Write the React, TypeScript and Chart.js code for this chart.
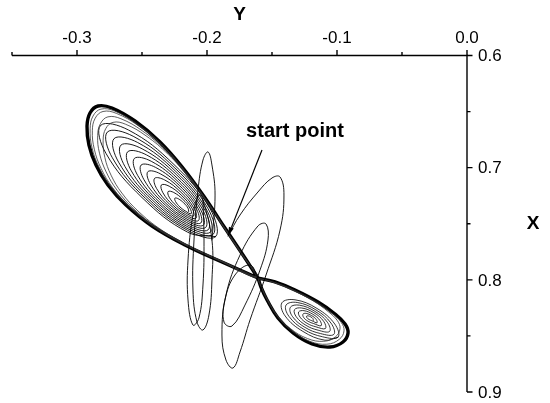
import React, { useEffect, useRef } from 'react';
import { Chart, registerables } from 'chart.js';

Chart.register(...registerables);

// Each point is [Y, X]: Y runs along the top axis, X down the right axis.
type Pt = [number, number];

const topTicks = [-0.3, -0.2, -0.1, 0.0];
const topTickLabels = ['-0.3', '-0.2', '-0.1', '0.0'];
const topMinorTicks = [-0.35, -0.25, -0.15, -0.05];
const rightTicks = [0.6, 0.7, 0.8, 0.9];
const rightTickLabels = ['0.6', '0.7', '0.8', '0.9'];
const rightMinorTicks = [0.65, 0.75, 0.85];

const annotationText = 'start point';
const annotationAt: Pt = [-0.1323, 0.6673];
const arrowFrom: Pt = [-0.1577, 0.6842];
const arrowTo: Pt = [-0.1838, 0.7609];

// early excursion leaving the start point
const transientA: Pt[] = [
  [-0.1838, 0.7609], [-0.1746, 0.7422], [-0.1608, 0.7217], [-0.15, 0.7092], [-0.1438, 0.7083],
  [-0.1408, 0.7244], [-0.1438, 0.7556], [-0.1546, 0.7957], [-0.1669, 0.8358], [-0.1746, 0.8643],
  [-0.18, 0.8786], [-0.1854, 0.8715], [-0.1885, 0.8492], [-0.1854, 0.8135], [-0.1746, 0.7779],
  [-0.1608, 0.752], [-0.1546, 0.7502], [-0.1531, 0.7645], [-0.1592, 0.7912], [-0.1708, 0.8225],
  [-0.1808, 0.8412], [-0.1869, 0.8377], [-0.1862, 0.818], [-0.1785, 0.7957], [-0.1669, 0.7868],
  [-0.1608, 0.7984],
];

// narrow swings on the left side
const transientB: Pt[] = [
  [-0.1962, 0.7645], [-0.1938, 0.7244], [-0.1962, 0.6976], [-0.1992, 0.686], [-0.2031, 0.6932],
  [-0.2069, 0.7199], [-0.21, 0.7645], [-0.2108, 0.8091], [-0.2077, 0.8376], [-0.2031, 0.8447],
  [-0.1985, 0.8313], [-0.1962, 0.8002], [-0.1962, 0.7645],
  [-0.2031, 0.7288], [-0.2062, 0.7244], [-0.2108, 0.7422], [-0.2146, 0.7823], [-0.2146, 0.818],
  [-0.2108, 0.8403], [-0.2062, 0.834], [-0.2031, 0.8046], [-0.2023, 0.7645], [-0.2031, 0.7288],
];

// dense band just inside the left lobe's rim
const leftBand: Pt[] = [
  [-0.1611, 0.7981], [-0.1723, 0.778], [-0.186, 0.7544], [-0.201, 0.7281], [-0.2176, 0.702],
  [-0.235, 0.6792], [-0.2538, 0.6609], [-0.2711, 0.6495], [-0.2816, 0.6478], [-0.2877, 0.654],
  [-0.2899, 0.6653], [-0.2885, 0.6819], [-0.2832, 0.6993], [-0.2742, 0.7168], [-0.2605, 0.7343],
  [-0.2409, 0.7526], [-0.2161, 0.7692], [-0.1882, 0.7841],
  [-0.1613, 0.7979], [-0.1724, 0.7781], [-0.1858, 0.7549], [-0.2006, 0.729], [-0.217, 0.7032],
  [-0.234, 0.6808], [-0.2526, 0.6628], [-0.2697, 0.6516], [-0.28, 0.6499], [-0.286, 0.6559],
  [-0.2882, 0.6671], [-0.2867, 0.6835], [-0.2815, 0.7006], [-0.2726, 0.7178], [-0.2592, 0.7351],
  [-0.2399, 0.7531], [-0.2154, 0.7694], [-0.188, 0.7841],
  [-0.1618, 0.7974], [-0.1725, 0.7783], [-0.1854, 0.7559], [-0.1996, 0.731], [-0.2154, 0.7062],
  [-0.2319, 0.6846], [-0.2497, 0.6672], [-0.2662, 0.6564], [-0.2762, 0.6547], [-0.2819, 0.6606],
  [-0.2841, 0.6714], [-0.2827, 0.6871], [-0.2776, 0.7037], [-0.2691, 0.7202], [-0.2562, 0.7369],
  [-0.2376, 0.7542], [-0.2139, 0.77], [-0.1875, 0.7841],
  [-0.1622, 0.7969], [-0.1725, 0.7786], [-0.185, 0.757], [-0.1987, 0.733], [-0.2139, 0.7091],
  [-0.2297, 0.6883], [-0.2469, 0.6716], [-0.2628, 0.6612], [-0.2723, 0.6596], [-0.2779, 0.6652],
  [-0.2799, 0.6756], [-0.2786, 0.6908], [-0.2738, 0.7067], [-0.2655, 0.7226], [-0.2531, 0.7386],
  [-0.2352, 0.7554], [-0.2125, 0.7705], [-0.187, 0.7841],
  [-0.1608, 0.7984],
];

// nested turns of the left lobe, innermost first
const leftInner: Pt[] = [
  [-0.2141, 0.7391], [-0.2146, 0.7361], [-0.2179, 0.7314], [-0.2221, 0.7277], [-0.2247, 0.7272], [-0.2242, 0.7302], [-0.2209, 0.7349], [-0.2167, 0.7386],
  [-0.2122, 0.7411], [-0.2131, 0.7361], [-0.2186, 0.7282], [-0.2256, 0.7221], [-0.2299, 0.7213], [-0.2291, 0.7263], [-0.2235, 0.7341], [-0.2165, 0.7403],
  [-0.2103, 0.7431], [-0.2115, 0.7362], [-0.2193, 0.7251], [-0.2291, 0.7165], [-0.2351, 0.7154], [-0.2339, 0.7224], [-0.2262, 0.7334], [-0.2164, 0.742],
  [-0.2085, 0.7452], [-0.21, 0.7362], [-0.22, 0.722], [-0.2325, 0.711], [-0.2403, 0.7095], [-0.2388, 0.7185], [-0.2288, 0.7326], [-0.2162, 0.7437],
  [-0.2066, 0.7472], [-0.2084, 0.7362], [-0.2206, 0.7189], [-0.236, 0.7054], [-0.2455, 0.7036], [-0.2436, 0.7146], [-0.2315, 0.7319], [-0.2161, 0.7454],
  [-0.2047, 0.7493], [-0.2069, 0.7363], [-0.2213, 0.7158], [-0.2395, 0.6998], [-0.2507, 0.6977], [-0.2485, 0.7107], [-0.2341, 0.7311], [-0.2159, 0.7471],
  [-0.2028, 0.7513], [-0.2054, 0.7363], [-0.222, 0.7127], [-0.2429, 0.6943], [-0.2559, 0.6918], [-0.2534, 0.7068], [-0.2368, 0.7304], [-0.2158, 0.7488],
  [-0.201, 0.7533], [-0.2038, 0.7364], [-0.2227, 0.7096], [-0.2464, 0.6887], [-0.2611, 0.6859], [-0.2582, 0.7029], [-0.2394, 0.7296], [-0.2156, 0.7506],
  [-0.1991, 0.7554], [-0.2023, 0.7364], [-0.2233, 0.7065], [-0.2499, 0.6832], [-0.2663, 0.68], [-0.2631, 0.699], [-0.242, 0.7289], [-0.2155, 0.7523],
  [-0.1972, 0.7574], [-0.2008, 0.7365], [-0.224, 0.7034], [-0.2533, 0.6776], [-0.2715, 0.6741], [-0.268, 0.6951], [-0.2447, 0.7281], [-0.2154, 0.754],
  [-0.1953, 0.7595], [-0.1992, 0.7365], [-0.2247, 0.7003], [-0.2568, 0.672], [-0.2767, 0.6683], [-0.2728, 0.6912], [-0.2473, 0.7274], [-0.2152, 0.7557],
  [-0.1934, 0.7615], [-0.1977, 0.7365], [-0.2254, 0.6972], [-0.2603, 0.6665], [-0.2819, 0.6624], [-0.2777, 0.6873], [-0.25, 0.7266], [-0.2151, 0.7574],
  [-0.1934, 0.7615],
];

// outermost turn of the left lobe
const leftOuter: Pt[] = [
  [-0.1608, 0.7984], [-0.1723, 0.7779], [-0.1862, 0.7538], [-0.2015, 0.727], [-0.2185, 0.7003],
  [-0.2362, 0.6771], [-0.2554, 0.6584], [-0.2731, 0.6468], [-0.2838, 0.645], [-0.29, 0.6513],
  [-0.2923, 0.6629], [-0.2908, 0.6798], [-0.2854, 0.6976], [-0.2762, 0.7154], [-0.2623, 0.7333],
  [-0.2423, 0.752], [-0.2169, 0.7689], [-0.1885, 0.7841], [-0.1608, 0.7984],
];

// dense band inside the right lobe's rim
const rightBand: Pt[] = [
  [-0.1604, 0.7989], [-0.148, 0.8023], [-0.1333, 0.8091], [-0.1165, 0.8193], [-0.1041, 0.8294],
  [-0.0968, 0.8379], [-0.0946, 0.8455], [-0.0983, 0.8531], [-0.1078, 0.8574], [-0.1209, 0.8548],
  [-0.1348, 0.8455], [-0.1458, 0.8328], [-0.1538, 0.8176], [-0.1582, 0.8065],
  [-0.16, 0.7995], [-0.1482, 0.8026], [-0.1344, 0.8091], [-0.1184, 0.8187], [-0.1067, 0.8284],
  [-0.0997, 0.8364], [-0.0977, 0.8436], [-0.1012, 0.8508], [-0.1102, 0.8548], [-0.1226, 0.8524],
  [-0.1357, 0.8436], [-0.1462, 0.8315], [-0.1537, 0.8171], [-0.158, 0.8067],
  [-0.1608, 0.7984],
];

// nested turns of the right lobe, innermost first
const rightInner: Pt[] = [
  [-0.1182, 0.8361], [-0.1185, 0.8346], [-0.1202, 0.833], [-0.1222, 0.8321], [-0.1234, 0.8324], [-0.1231, 0.8338], [-0.1215, 0.8354], [-0.1194, 0.8364],
  [-0.1154, 0.8383], [-0.116, 0.8353], [-0.1195, 0.8319], [-0.1237, 0.8299], [-0.1262, 0.8306], [-0.1256, 0.8336], [-0.1222, 0.837], [-0.1179, 0.839],
  [-0.1122, 0.8409], [-0.1132, 0.8361], [-0.1187, 0.8306], [-0.1254, 0.8275], [-0.1295, 0.8286], [-0.1284, 0.8333], [-0.123, 0.8388], [-0.1162, 0.8419],
  [-0.1089, 0.8434], [-0.1103, 0.8369], [-0.1178, 0.8293], [-0.1272, 0.8251], [-0.1327, 0.8266], [-0.1313, 0.833], [-0.1238, 0.8406], [-0.1145, 0.8449],
  [-0.1057, 0.846], [-0.1074, 0.8378], [-0.117, 0.8281], [-0.1289, 0.8226], [-0.1359, 0.8245], [-0.1342, 0.8328], [-0.1246, 0.8424], [-0.1127, 0.8479],
  [-0.1024, 0.8486], [-0.1046, 0.8386], [-0.1162, 0.8268], [-0.1306, 0.8202], [-0.1392, 0.8225], [-0.137, 0.8325], [-0.1254, 0.8442], [-0.111, 0.8508],
  [-0.0992, 0.8511], [-0.1017, 0.8394], [-0.1154, 0.8255], [-0.1323, 0.8178], [-0.1424, 0.8205], [-0.1399, 0.8322], [-0.1262, 0.846], [-0.1093, 0.8538],
  [-0.0992, 0.8511],
];

// outermost turn of the right lobe
const rightOuter: Pt[] = [
  [-0.1608, 0.7984], [-0.1477, 0.8019], [-0.1323, 0.8091], [-0.1146, 0.8198], [-0.1015, 0.8305],
  [-0.0938, 0.8394], [-0.0915, 0.8474], [-0.0954, 0.8554], [-0.1054, 0.8599], [-0.1192, 0.8572],
  [-0.1338, 0.8474], [-0.1454, 0.834], [-0.1538, 0.818], [-0.1585, 0.8064], [-0.1608, 0.7984],
];

const FONT = '"Liberation Sans", Arial, Helvetica, sans-serif';

const toXY = (pts: Pt[]) => pts.map(([y, x]) => ({ x: y, y: x }));

const trace = (pts: Pt[], width: number, color = '#000') => ({
  data: toXY(pts),
  showLine: true,
  borderColor: color,
  borderWidth: width,
  pointRadius: 0,
  tension: 0.4,
  borderJoinStyle: 'round' as const,
  borderCapStyle: 'round' as const,
});

const framePlugin = {
  id: 'phaseFrame',
  afterDatasetsDraw(chart: any) {
    const { ctx, chartArea, scales } = chart;
    const sx = scales.x;
    const sy = scales.y;
    const { left, right, top, bottom } = chartArea;
    ctx.save();
    ctx.strokeStyle = '#000';
    ctx.fillStyle = '#000';
    ctx.lineWidth = 1.4;
    ctx.lineCap = 'butt';

    // axis lines
    ctx.beginPath();
    ctx.moveTo(left, top);
    ctx.lineTo(right, top);
    ctx.moveTo(right, top - 0.7);
    ctx.lineTo(right, bottom);
    ctx.stroke();

    // top axis ticks (pointing up)
    ctx.beginPath();
    topTicks.forEach((v) => {
      const px = sx.getPixelForValue(v);
      ctx.moveTo(px, top);
      ctx.lineTo(px, top - 5.5);
    });
    topMinorTicks.forEach((v) => {
      const px = sx.getPixelForValue(v);
      ctx.moveTo(px, top);
      ctx.lineTo(px, top - 3.5);
    });
    // right axis ticks (pointing right)
    rightTicks.forEach((v) => {
      const py = sy.getPixelForValue(v);
      ctx.moveTo(right, py);
      ctx.lineTo(right + 5.5, py);
    });
    rightMinorTicks.forEach((v) => {
      const py = sy.getPixelForValue(v);
      ctx.moveTo(right, py);
      ctx.lineTo(right + 3.5, py);
    });
    ctx.stroke();

    // tick labels
    ctx.font = `17px ${FONT}`;
    ctx.textAlign = 'center';
    ctx.textBaseline = 'alphabetic';
    topTicks.forEach((v, i) => {
      ctx.fillText(topTickLabels[i], sx.getPixelForValue(v), top - 12.5);
    });
    ctx.textAlign = 'left';
    ctx.textBaseline = 'middle';
    rightTicks.forEach((v, i) => {
      ctx.fillText(rightTickLabels[i], right + 11, sy.getPixelForValue(v) + 1);
    });

    // axis titles
    ctx.font = `bold 19px ${FONT}`;
    ctx.textAlign = 'center';
    ctx.textBaseline = 'middle';
    ctx.fillText('Y', (left + right) / 2, 15);
    ctx.fillText('X', 533, (top + bottom) / 2);

    // annotation and its arrow
    ctx.font = `bold 20px ${FONT}`;
    ctx.fillText(annotationText, sx.getPixelForValue(annotationAt[0]), sy.getPixelForValue(annotationAt[1]));
    const ax0 = sx.getPixelForValue(arrowFrom[0]);
    const ay0 = sy.getPixelForValue(arrowFrom[1]);
    const ax1 = sx.getPixelForValue(arrowTo[0]);
    const ay1 = sy.getPixelForValue(arrowTo[1]);
    const ang = Math.atan2(ay1 - ay0, ax1 - ax0);
    const headLen = 9;
    const headHalf = 2.6;
    const bx = ax1 - headLen * Math.cos(ang);
    const by = ay1 - headLen * Math.sin(ang);
    ctx.lineWidth = 1.2;
    ctx.beginPath();
    ctx.moveTo(ax0, ay0);
    ctx.lineTo(bx, by);
    ctx.stroke();
    ctx.beginPath();
    ctx.moveTo(ax1, ay1);
    ctx.lineTo(bx + headHalf * Math.sin(ang), by - headHalf * Math.cos(ang));
    ctx.lineTo(bx - headHalf * Math.sin(ang), by + headHalf * Math.cos(ang));
    ctx.closePath();
    ctx.fill();
    ctx.restore();
  },
};

export default function App() {
  const canvasRef = useRef<HTMLCanvasElement | null>(null);

  useEffect(() => {
    const canvas = canvasRef.current;
    if (!canvas) return;
    const chart = new Chart(canvas, {
      type: 'scatter',
      data: {
        datasets: [
          trace(transientB, 0.9),
          trace(transientA, 0.9),
          trace(leftBand, 0.8, '#333'),
          trace(rightBand, 0.8, '#333'),
          trace(leftInner, 0.9),
          trace(rightInner, 0.8),
          trace(leftOuter, 3.4),
          trace(rightOuter, 3.4),
        ],
      },
      options: {
        responsive: false,
        animation: false,
        devicePixelRatio: 1,
        layout: { padding: { left: 12, top: 55.5, right: 83, bottom: 11 } },
        plugins: { legend: { display: false }, tooltip: { enabled: false } },
        scales: {
          x: { type: 'linear', min: -0.35, max: 0, display: false },
          y: { type: 'linear', min: 0.6, max: 0.9, reverse: true, display: false },
        },
      },
      plugins: [framePlugin],
    });
    return () => chart.destroy();
  }, []);

  return (
    <div style={{ position: 'fixed', left: 0, top: 0, width: 550, height: 403, background: '#fff' }}>
      <canvas ref={canvasRef} width={550} height={403} style={{ display: 'block' }} />
    </div>
  );
}
